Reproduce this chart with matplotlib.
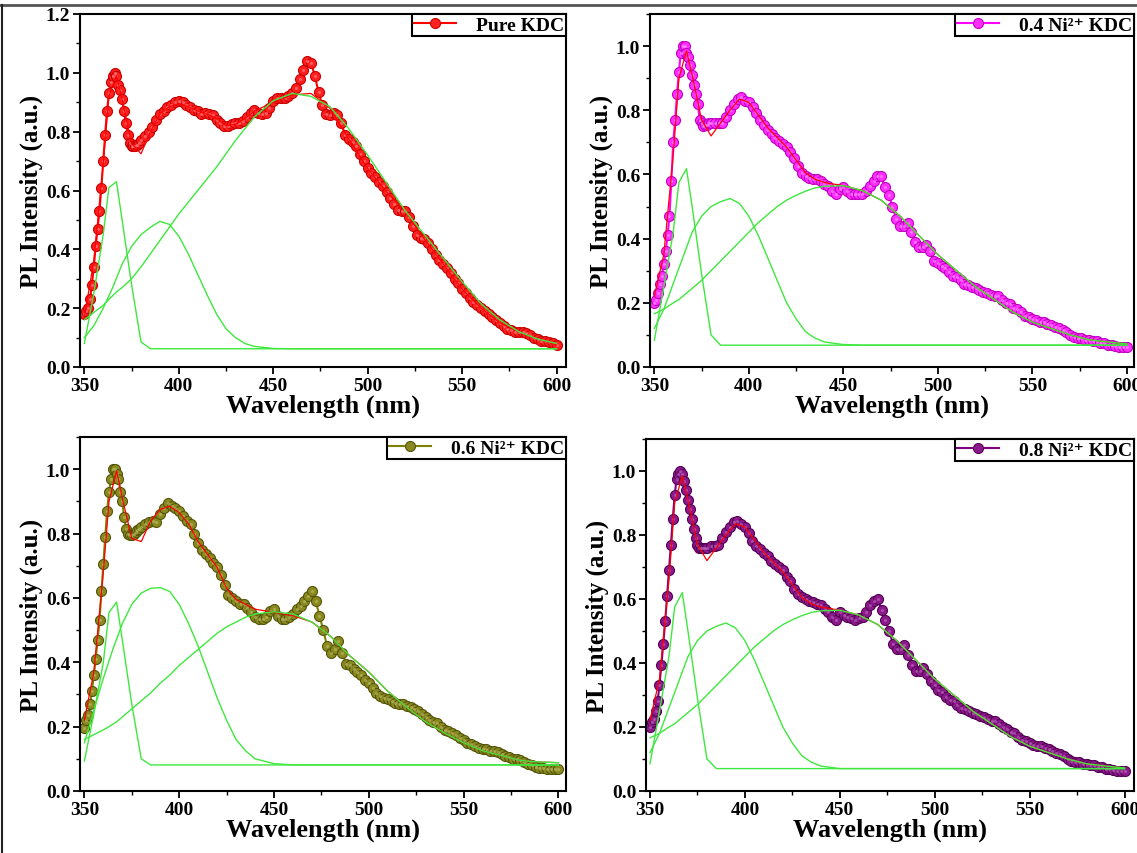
import numpy as np
import matplotlib
matplotlib.use('Agg')
import matplotlib.pyplot as plt
import matplotlib.ticker as ticker
from matplotlib.lines import Line2D

plt.rcParams['font.family'] = ['Liberation Serif', 'DejaVu Serif']
plt.rcParams['font.weight'] = 'bold'
plt.rcParams['axes.labelweight'] = 'bold'

#======================================================
# measured spectra: 1 nm steps on the sharp rise, 2 nm steps after
wl_a = np.arange(350, 381)
wl_b = np.arange(382, 601, 2)

pure_a = [0.18, 0.19, 0.20, 0.23, 0.28, 0.34, 0.41, 0.47, 0.53, 0.61,
          0.70, 0.79, 0.87, 0.93, 0.97, 0.99, 1.0, 0.99, 0.96, 0.94,
          0.91, 0.87, 0.83, 0.79, 0.76, 0.75, 0.75, 0.75, 0.755, 0.76, 0.77]
pure_b = [0.785, 0.80, 0.815, 0.84,
          0.86, 0.87, 0.885, 0.89, 0.90, 0.905, 0.90, 0.89, 0.885, 0.875,
          0.87, 0.86, 0.865, 0.86, 0.855, 0.84, 0.83, 0.82, 0.82, 0.825,
          0.83, 0.83, 0.835, 0.85, 0.865, 0.875, 0.865, 0.86, 0.865, 0.88,
          0.905, 0.915, 0.915, 0.915, 0.92, 0.93, 0.95, 0.98, 1.01, 1.04,
          1.035, 0.99, 0.935, 0.89, 0.86, 0.855, 0.865, 0.855, 0.83, 0.79,
          0.775, 0.765, 0.75, 0.725, 0.70, 0.675, 0.66, 0.645, 0.63, 0.615,
          0.595, 0.575, 0.555, 0.535, 0.53, 0.53, 0.51, 0.48, 0.45, 0.44,
          0.435, 0.42, 0.40, 0.38, 0.365, 0.35, 0.335, 0.32, 0.30, 0.285,
          0.265, 0.25, 0.235, 0.22, 0.21, 0.20, 0.19, 0.18, 0.17, 0.16,
          0.15, 0.14, 0.13, 0.125, 0.12, 0.12, 0.12, 0.115, 0.11, 0.10,
          0.095, 0.09, 0.09, 0.085, 0.08, 0.075]

ni04_a = [0.20, 0.21, 0.23, 0.26, 0.285, 0.32, 0.36, 0.41, 0.47, 0.58,
          0.70, 0.77, 0.85, 0.92, 0.98, 1.0, 1.0, 0.98, 0.965, 0.94,
          0.91, 0.88, 0.85, 0.82, 0.77, 0.76, 0.75, 0.755, 0.755, 0.76, 0.76]
ni04_b = [0.76, 0.76, 0.76, 0.78,
          0.80, 0.82, 0.835, 0.84, 0.83, 0.825, 0.81, 0.79, 0.77, 0.755,
          0.74, 0.725, 0.715, 0.705, 0.695, 0.685, 0.67, 0.65, 0.625, 0.605,
          0.595, 0.59, 0.585, 0.585, 0.58, 0.57, 0.565, 0.55, 0.54, 0.555,
          0.56, 0.55, 0.54, 0.54, 0.54, 0.54, 0.55, 0.565, 0.58, 0.595,
          0.595, 0.56, 0.535, 0.50, 0.46, 0.44, 0.44, 0.45, 0.42, 0.39,
          0.375, 0.375, 0.38, 0.36, 0.33, 0.325, 0.315, 0.31, 0.295, 0.285,
          0.28, 0.27, 0.26, 0.255, 0.25, 0.245, 0.24, 0.235, 0.23, 0.225,
          0.22, 0.22, 0.21, 0.20, 0.195, 0.185, 0.18, 0.17, 0.16, 0.155,
          0.15, 0.145, 0.14, 0.14, 0.135, 0.13, 0.125, 0.12, 0.115, 0.11,
          0.10, 0.095, 0.09, 0.09, 0.085, 0.085, 0.08, 0.08, 0.075, 0.075,
          0.07, 0.068, 0.065, 0.063, 0.062, 0.062]

ni06_a = [0.197, 0.22, 0.235, 0.27, 0.31, 0.36, 0.41, 0.47, 0.53, 0.62,
          0.705, 0.79, 0.87, 0.93, 0.97, 1.0, 1.0, 0.985, 0.97, 0.93,
          0.90, 0.85, 0.815, 0.80, 0.795, 0.795, 0.80, 0.805, 0.81, 0.815, 0.82]
ni06_b = [0.83, 0.835, 0.84, 0.835,
          0.86, 0.88, 0.895, 0.885, 0.88, 0.87, 0.855, 0.84, 0.83, 0.80,
          0.77, 0.75, 0.735, 0.725, 0.71, 0.695, 0.67, 0.64, 0.61, 0.60,
          0.59, 0.58, 0.58, 0.57, 0.555, 0.54, 0.535, 0.535, 0.54, 0.56,
          0.565, 0.545, 0.535, 0.535, 0.54, 0.55, 0.565, 0.575, 0.59, 0.605,
          0.62, 0.59, 0.545, 0.50, 0.45, 0.43, 0.44, 0.465, 0.43, 0.395,
          0.39, 0.38, 0.37, 0.36, 0.345, 0.335, 0.32, 0.305, 0.295, 0.29,
          0.285, 0.28, 0.275, 0.27, 0.27, 0.265, 0.26, 0.255, 0.25, 0.24,
          0.23, 0.22, 0.215, 0.21, 0.20, 0.19, 0.185, 0.18, 0.175, 0.165,
          0.16, 0.15, 0.145, 0.14, 0.135, 0.13, 0.13, 0.125, 0.125, 0.12,
          0.115, 0.11, 0.105, 0.10, 0.10, 0.095, 0.09, 0.085, 0.08, 0.075,
          0.072, 0.07, 0.068, 0.068, 0.068, 0.068]

ni08_a = [0.20, 0.215, 0.225, 0.25, 0.28, 0.33, 0.395, 0.46, 0.53, 0.61,
          0.69, 0.77, 0.85, 0.925, 0.975, 0.99, 1.0, 0.99, 0.97, 0.94,
          0.91, 0.88, 0.85, 0.82, 0.79, 0.77, 0.76, 0.76, 0.76, 0.76, 0.76]
ni08_b = [0.765, 0.765, 0.77, 0.79,
          0.81, 0.825, 0.84, 0.845, 0.835, 0.825, 0.805, 0.78, 0.765, 0.755,
          0.745, 0.735, 0.72, 0.71, 0.70, 0.69, 0.67, 0.655, 0.63, 0.615,
          0.605, 0.60, 0.595, 0.59, 0.585, 0.58, 0.57, 0.56, 0.545, 0.535,
          0.56, 0.55, 0.545, 0.54, 0.535, 0.54, 0.545, 0.56, 0.58, 0.595,
          0.60, 0.565, 0.535, 0.50, 0.46, 0.445, 0.445, 0.455, 0.425, 0.395,
          0.375, 0.375, 0.385, 0.365, 0.345, 0.33, 0.315, 0.31, 0.295, 0.285,
          0.28, 0.27, 0.26, 0.255, 0.25, 0.245, 0.24, 0.235, 0.23, 0.225,
          0.22, 0.22, 0.21, 0.20, 0.195, 0.185, 0.18, 0.17, 0.16, 0.155,
          0.15, 0.145, 0.14, 0.14, 0.135, 0.13, 0.125, 0.12, 0.115, 0.11,
          0.10, 0.095, 0.09, 0.09, 0.085, 0.085, 0.08, 0.08, 0.075, 0.075,
          0.07, 0.068, 0.065, 0.063, 0.062, 0.062]

#======================================================
# fitted curve and broad component (coarse grid)
fit_x = [350, 355, 360, 363, 367, 370, 375, 380, 385, 390, 395, 400, 405, 410,
         415, 420, 425, 430, 435, 440, 450, 460, 470, 480, 490, 500, 510, 520,
         530, 540, 550, 560, 570, 580, 590, 600]

fit_pure = [0.17, 0.36, 0.69, 0.92, 0.99, 0.91, 0.76, 0.725, 0.80, 0.86, 0.885,
            0.895, 0.885, 0.87, 0.86, 0.845, 0.82, 0.825, 0.845, 0.87, 0.90,
            0.925, 0.93, 0.88, 0.775, 0.675, 0.595, 0.53, 0.435, 0.35, 0.265,
            0.20, 0.15, 0.12, 0.095, 0.075]
fit_ni04 = [0.22, 0.35, 0.66, 0.90, 0.985, 0.91, 0.77, 0.72, 0.76, 0.80, 0.835,
            0.825, 0.785, 0.745, 0.715, 0.685, 0.645, 0.605, 0.585, 0.575, 0.565,
            0.55, 0.52, 0.47, 0.41, 0.35, 0.30, 0.25, 0.21, 0.17, 0.14, 0.12,
            0.10, 0.085, 0.078, 0.072]
fit_ni06 = [0.22, 0.37, 0.68, 0.90, 0.995, 0.91, 0.785, 0.775, 0.84, 0.875, 0.885,
            0.865, 0.83, 0.775, 0.735, 0.695, 0.63, 0.595, 0.58, 0.565, 0.555,
            0.545, 0.525, 0.48, 0.42, 0.37, 0.31, 0.26, 0.215, 0.18, 0.15, 0.125,
            0.11, 0.095, 0.09, 0.088]
fit_ni08 = [0.22, 0.35, 0.66, 0.90, 0.985, 0.91, 0.77, 0.72, 0.76, 0.80, 0.835,
            0.825, 0.785, 0.745, 0.715, 0.685, 0.645, 0.605, 0.585, 0.575, 0.565,
            0.55, 0.52, 0.47, 0.41, 0.35, 0.30, 0.25, 0.21, 0.17, 0.14, 0.12,
            0.10, 0.085, 0.078, 0.072]

g3_pure = [0.16, 0.185, 0.21, 0.23, 0.255, 0.27, 0.30, 0.34, 0.385, 0.43, 0.475,
           0.52, 0.56, 0.60, 0.64, 0.68, 0.725, 0.77, 0.81, 0.85, 0.905, 0.93,
           0.92, 0.885, 0.81, 0.72, 0.625, 0.53, 0.45, 0.37, 0.29, 0.215, 0.16,
           0.12, 0.095, 0.08]
g3_ni04 = [0.166, 0.18, 0.20, 0.21, 0.23, 0.245, 0.27, 0.30, 0.33, 0.36, 0.39,
           0.42, 0.45, 0.475, 0.50, 0.52, 0.535, 0.548, 0.558, 0.563, 0.565,
           0.55, 0.52, 0.47, 0.41, 0.35, 0.30, 0.25, 0.21, 0.17, 0.14, 0.12,
           0.10, 0.085, 0.078, 0.072]
g3_ni06 = [0.16, 0.175, 0.19, 0.20, 0.215, 0.23, 0.255, 0.28, 0.305, 0.335, 0.36,
           0.39, 0.415, 0.44, 0.465, 0.49, 0.51, 0.525, 0.54, 0.55, 0.557, 0.55,
           0.525, 0.48, 0.42, 0.37, 0.31, 0.26, 0.215, 0.18, 0.15, 0.125, 0.11,
           0.095, 0.09, 0.088]
g3_ni08 = [0.166, 0.18, 0.20, 0.21, 0.23, 0.245, 0.27, 0.30, 0.33, 0.36, 0.39,
           0.42, 0.45, 0.475, 0.50, 0.52, 0.535, 0.548, 0.558, 0.563, 0.565,
           0.55, 0.52, 0.47, 0.41, 0.35, 0.30, 0.25, 0.21, 0.17, 0.14, 0.12,
           0.10, 0.085, 0.078, 0.072]

# narrow component near 366 nm
g1_x = [350, 355, 360, 363, 367, 370, 375, 380, 385, 600]
g1_pure = [0.08, 0.25, 0.45, 0.61, 0.63, 0.50, 0.28, 0.085, 0.062, 0.062]
g1_ni04 = [0.083, 0.25, 0.42, 0.575, 0.618, 0.50, 0.29, 0.10, 0.068, 0.068]
g1_ni06 = [0.093, 0.24, 0.40, 0.555, 0.587, 0.47, 0.27, 0.10, 0.081, 0.081]
g1_ni08 = [0.085, 0.25, 0.42, 0.575, 0.62, 0.50, 0.29, 0.10, 0.07, 0.07]

# component near 390 nm
g2_x = [350, 355, 360, 365, 370, 375, 380, 385, 390, 395, 400, 405, 410, 415,
        420, 425, 430, 435, 440, 450, 460, 600]
g2_pure = [0.10, 0.14, 0.20, 0.27, 0.35, 0.41, 0.45, 0.475, 0.495, 0.485, 0.445,
           0.385, 0.315, 0.245, 0.18, 0.13, 0.10, 0.08, 0.07, 0.063, 0.062, 0.062]
g2_ni04 = [0.12, 0.18, 0.26, 0.34, 0.42, 0.47, 0.50, 0.515, 0.525, 0.51, 0.47,
           0.41, 0.34, 0.27, 0.20, 0.15, 0.11, 0.09, 0.078, 0.07, 0.068, 0.068]
g2_ni06 = [0.15, 0.25, 0.35, 0.44, 0.52, 0.58, 0.615, 0.63, 0.632, 0.62, 0.58,
           0.52, 0.45, 0.37, 0.29, 0.22, 0.16, 0.125, 0.10, 0.085, 0.081, 0.081]
g2_ni08 = [0.12, 0.18, 0.26, 0.34, 0.42, 0.47, 0.50, 0.515, 0.525, 0.51, 0.47,
           0.41, 0.34, 0.27, 0.20, 0.15, 0.11, 0.09, 0.078, 0.07, 0.07, 0.07]

labels = ['Pure KDC', '0.4 Ni\u00b2\u207a KDC', '0.6 Ni\u00b2\u207a KDC', '0.8 Ni\u00b2\u207a KDC']
#======================================================

fig = plt.figure(figsize=(11.37, 8.54), dpi=100)
W, H = 1137., 854.

def pos(l, r, t, b):
    return [l / W, 1 - b / H, (r - l) / W, (b - t) / H]

axes_px = [(80, 566, 15, 368), (650, 1134, 15, 368),
           (80, 566, 438, 792), (646, 1134, 440, 792)]
xlims = [(347.7, 605.0), (347.7, 603.8), (347.7, 604.0), (347.9, 605.0)]
ytops = [1.2, 1.1, 1.1, 1.1]

wl = np.concatenate([wl_a, wl_b])
sets = [(pure_a + pure_b, fit_pure, g1_pure, g2_pure, g3_pure, '#ff0000', '#ff2020', '#c80000', '#ff9090'),
        (ni04_a + ni04_b, fit_ni04, g1_ni04, g2_ni04, g3_ni04, '#ff00ff', '#ff30ff', '#c000c0', '#ffa0ff'),
        (ni06_a + ni06_b, fit_ni06, g1_ni06, g2_ni06, g3_ni06, '#808000', '#8a8a20', '#55550a', '#c0c070'),
        (ni08_a + ni08_b, fit_ni08, g1_ni08, g2_ni08, g3_ni08, '#800080', '#8c1a8c', '#550055', '#c070c0')]

green = '#3ee83e'

for i in range(4):
    ax = fig.add_axes(pos(*axes_px[i]))
    data, fit, g1, g2, g3, lc, fc, ec, hc = sets[i]
    ax.plot(wl, data, '-o', color=lc, lw=1.5, ms=7.2, mfc=fc, mec=ec, mew=0.8,
            label=labels[i], zorder=2)
    # little highlight for the shaded ball look
    ax.plot(wl, data, 'o', ms=2.2, color=hc, alpha=0.6, mew=0, zorder=2.5)
    ax.plot(fit_x, fit, color='#ff0000', lw=0.9, zorder=3)
    ax.plot(g1_x, g1, color=green, lw=1.0, zorder=4)
    ax.plot(g2_x, g2, color=green, lw=1.0, zorder=4)
    ax.plot(fit_x, g3, color=green, lw=1.0, zorder=4)

    ax.set_xlim(*xlims[i])
    ax.set_ylim(0, ytops[i])
    ax.xaxis.set_major_locator(ticker.MultipleLocator(50))
    ax.xaxis.set_minor_locator(ticker.MultipleLocator(25))
    ax.yaxis.set_major_locator(ticker.MultipleLocator(0.2))
    ax.yaxis.set_minor_locator(ticker.MultipleLocator(0.1))
    ax.yaxis.set_major_formatter(ticker.FormatStrFormatter('%.1f'))
    ax.tick_params(which='major', length=5, width=1.3, labelsize=14, pad=2)
    ax.tick_params(which='minor', length=3, width=1.0)
    for t in ax.get_xticklabels() + ax.get_yticklabels():
        t.set_fontweight('bold')
    for s in ax.spines.values():
        s.set_linewidth(1.5)
    ax.set_xlabel('Wavelength (nm)', fontsize=19, fontweight='bold', labelpad=0)
    ax.set_ylabel('PL Intensity (a.u.)', fontsize=18, fontweight='bold', labelpad=2)

    leg = ax.legend(loc='upper right', borderaxespad=0, fancybox=False,
                    framealpha=1, edgecolor='black', prop={'size': 14, 'weight': 'bold'},
                    handlelength=2.2, borderpad=0.1, handletextpad=1.0)
    leg.get_frame().set_linewidth(1.5)

# outer border of the picture
fig.add_artist(Line2D([0, 1], [1 - 6 / H, 1 - 6 / H], color='#555555', lw=2,
                      transform=fig.transFigure))
fig.add_artist(Line2D([2 / W, 2 / W], [0, 1 - 6 / H], color='#222222', lw=1.5,
                      transform=fig.transFigure))

plt.savefig('out.png', dpi=100)
